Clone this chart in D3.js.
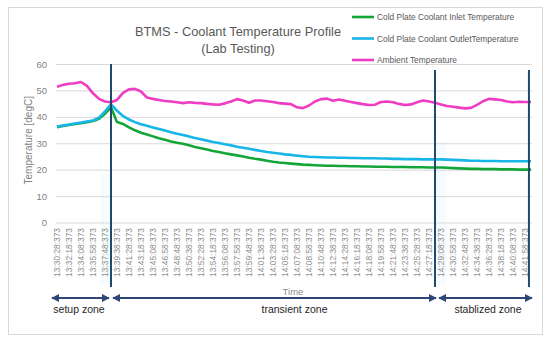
<!DOCTYPE html>
<html>
<head>
<meta charset="utf-8">
<script src="https://cdn.jsdelivr.net/npm/d3@7"></script>
<style>
  body { margin: 0; background: #fff; }
  text { font-family: "Liberation Sans", Arial, sans-serif; }
</style>
</head>
<body>
<div id="chart"></div>
<script>
const width = 550;
const height = 342;
const margin = { top: 64, right: 18, bottom: 119.5, left: 56 };

// tick labels on the time axis (one every 1:50)
const timeLabels = [
  "13:30:28:373", "13:32:18:373", "13:34:08:373", "13:35:58:373", "13:37:48:373",
  "13:39:38:373", "13:41:28:373", "13:43:18:373", "13:45:08:373", "13:46:58:373",
  "13:48:48:373", "13:50:38:373", "13:52:28:373", "13:54:18:373", "13:56:08:373",
  "13:57:58:373", "13:59:48:373", "14:01:38:373", "14:03:28:373", "14:05:18:373",
  "14:07:08:373", "14:08:58:373", "14:10:48:373", "14:12:38:373", "14:14:28:373",
  "14:16:18:373", "14:18:08:373", "14:19:58:373", "14:21:48:373", "14:23:38:373",
  "14:25:28:373", "14:27:18:373", "14:29:08:373", "14:30:58:373", "14:32:48:373",
  "14:34:38:373", "14:36:28:373", "14:38:18:373", "14:40:08:373", "14:41:58:373"
];
const startTime = "13:30:28";
const sampleStep = 55; // seconds between readings below

// values, one reading every 55 s
const inletTemp = [
  36.1, 36.5, 36.9, 37.3, 37.6, 38.0, 38.4, 39.3, 41.2, 43.6,
  38.0, 37.3, 36.0, 34.9, 34.0, 33.3, 32.6, 31.9, 31.3, 30.7,
  30.2, 29.8, 29.2, 28.6, 28.1, 27.6, 27.1, 26.7, 26.2, 25.8,
  25.4, 25.0, 24.5, 24.1, 23.8, 23.4, 23.0, 22.7, 22.5, 22.3,
  22.1, 21.9, 21.8, 21.7, 21.6, 21.5, 21.5, 21.4, 21.4, 21.3,
  21.3, 21.2, 21.2, 21.1, 21.1, 21.1, 21.0, 21.0, 21.0, 20.9,
  20.9, 20.9, 20.8, 20.8, 20.8, 20.7, 20.6, 20.5, 20.4, 20.3,
  20.3, 20.2, 20.2, 20.2, 20.1, 20.1, 20.1, 20.0, 20.0, 20.0
];
const outletTemp = [
  36.3, 36.7, 37.1, 37.5, 37.8, 38.2, 38.6, 39.7, 42.1, 44.7,
  42.3, 40.3, 39.0, 38.0, 37.2, 36.6, 36.0, 35.4, 34.8, 34.2,
  33.6, 33.1, 32.6, 32.0, 31.5, 31.0, 30.5, 30.1, 29.6, 29.2,
  28.7, 28.3, 27.9, 27.5, 27.1, 26.7, 26.4, 26.1, 25.8, 25.6,
  25.3, 25.1, 24.9, 24.8, 24.7, 24.6, 24.6, 24.5, 24.5, 24.4,
  24.4, 24.3, 24.3, 24.3, 24.2, 24.2, 24.1, 24.1, 24.0, 24.0,
  24.0, 23.9, 23.9, 23.9, 23.9, 23.8, 23.7, 23.6, 23.5, 23.4,
  23.4, 23.3, 23.3, 23.3, 23.2, 23.2, 23.2, 23.2, 23.2, 23.2
];
const ambientTemp = [
  51.4, 52.1, 52.5, 52.7, 53.2, 51.7, 48.9, 46.8, 45.8, 45.5,
  46.4, 49.1, 50.4, 50.6, 49.6, 47.3, 46.8, 46.4, 46.0, 45.8,
  45.5, 45.2, 45.5, 45.3, 45.2, 44.9, 44.7, 44.6, 45.1, 45.8,
  46.7, 46.2, 45.3, 46.2, 46.2, 45.9, 45.6, 45.2, 45.0, 44.8,
  43.6, 43.3, 44.3, 45.8, 46.7, 46.9, 46.1, 46.6, 46.1, 45.6,
  45.2, 44.8, 44.5, 44.6, 45.6, 45.8, 45.5, 44.9, 44.5, 44.7,
  45.5, 46.2, 45.8, 45.3, 44.7, 44.1, 43.8, 43.5, 43.2, 43.4,
  44.5, 45.9, 46.8, 46.6, 46.4, 45.8, 45.5, 45.7, 45.6, 45.6
];

const seriesNames = [
  "Cold Plate Coolant Inlet Temperature",
  "Cold Plate Coolant OutletTemperature",
  "Ambient Temperature"
];
const seriesColors = ["#14a538", "#17b5e8", "#ee3cc3"];

// zone boundaries (vertical markers) and zone names
const zoneBounds = ["13:38:43", "14:28:13", "14:42:34"];
const zoneNames = ["setup zone", "transient zone", "stablized zone"];

const toSec = s => {
  const p = s.split(":").map(Number);
  return p[0] * 3600 + p[1] * 60 + p[2];
};
const t0 = toSec(startTime);

const svg = d3.select("#chart")
  .append("svg")
  .attr("width", width)
  .attr("height", height);

svg.append("rect")
  .attr("x", 8.5).attr("y", 7.5)
  .attr("width", 534).attr("height", 327)
  .attr("fill", "#fff")
  .attr("stroke", "#d9d9d9");

const innerW = width - margin.left - margin.right;
const innerH = height - margin.top - margin.bottom;

const x = d3.scaleLinear()
  .domain([-9, 4354])
  .range([0, innerW]);

const y = d3.scaleLinear()
  .domain([0, 60])
  .range([innerH, 0]);

const g = svg.append("g")
  .attr("transform", `translate(${margin.left}, ${margin.top})`);

// faint highlight bands
[[toSec("13:37:13"), toSec("13:38:38"), 110], [toSec("14:28:18"), toSec("14:29:58"), 78]].forEach(b => {
  g.append("rect")
    .attr("x", x(b[0] - t0))
    .attr("y", b[2])
    .attr("width", x(b[1] - t0) - x(b[0] - t0))
    .attr("height", innerH - b[2] + 62)
    .attr("fill", "#f4fcfd");
});

// gridlines + y labels
const yAxis = d3.axisLeft(y)
  .tickValues([0, 10, 20, 30, 40, 50, 60])
  .tickSize(-innerW)
  .tickPadding(9);
g.append("g")
  .call(yAxis)
  .call(a => a.select(".domain").remove())
  .call(a => a.selectAll("line").attr("stroke", "#d9d9d9"))
  .call(a => a.selectAll("text")
    .attr("fill", "#7f7f7f")
    .style("font-size", "9.5px")
    .style("font-family", '"Liberation Sans", Arial, sans-serif'));

// x labels (rotated)
const xAxis = d3.axisBottom(x)
  .tickValues(timeLabels.map(d => toSec(d.slice(0, 8)) - t0))
  .tickFormat((d, i) => timeLabels[i])
  .tickSize(0);
g.append("g")
  .attr("transform", `translate(0, ${innerH})`)
  .call(xAxis)
  .call(a => a.select(".domain").remove())
  .call(a => a.selectAll("text")
    .attr("transform", "rotate(-90)")
    .attr("text-anchor", "end")
    .attr("x", -5.5)
    .attr("y", 0)
    .attr("dy", "0.35em")
    .attr("fill", "#8c8c8c")
    .style("font-size", "8.4px")
    .style("font-family", '"Liberation Sans", Arial, sans-serif'));

// lines
const line = d3.line()
  .x((d, i) => x(i * sampleStep))
  .y(d => y(d));

[inletTemp, outletTemp, ambientTemp].forEach((s, i) => {
  g.append("path")
    .datum(s)
    .attr("fill", "none")
    .attr("stroke", seriesColors[i])
    .attr("stroke-width", 2.6)
    .attr("stroke-linejoin", "round")
    .attr("d", line);
});

// zone markers
const markerX = zoneBounds.map(d => x(toSec(d) - t0));
markerX.forEach((mx, i) => {
  g.append("line")
    .attr("x1", mx).attr("x2", mx)
    .attr("y1", i === 0 ? 0 : 6)
    .attr("y2", innerH + 64.5)
    .attr("stroke", "#1f4a6e")
    .attr("stroke-width", 2);
});

// zone arrows
const defs = svg.append("defs");
defs.append("marker")
  .attr("id", "arr")
  .attr("viewBox", "0 0 10 10")
  .attr("refX", 9).attr("refY", 5)
  .attr("markerWidth", 4).attr("markerHeight", 4)
  .attr("orient", "auto-start-reverse")
  .append("path")
  .attr("d", "M0,0 L10,5 L0,10 Z")
  .attr("fill", "#2d4676");

const arrowY = innerH + 75.5;
const zoneEdges = [[-4, markerX[0] - 2], [markerX[0] + 2, markerX[1] + 1], [markerX[1] + 4, innerW]];
zoneEdges.forEach((e, i) => {
  g.append("line")
    .attr("x1", e[0]).attr("x2", e[1])
    .attr("y1", arrowY).attr("y2", arrowY)
    .attr("stroke", "#2d4676")
    .attr("stroke-width", 2)
    .attr("marker-start", "url(#arr)")
    .attr("marker-end", "url(#arr)");
});

const zoneTextX = [23, 238.5, 432];
zoneNames.forEach((n, i) => {
  g.append("text")
    .attr("x", zoneTextX[i])
    .attr("y", arrowY + 15)
    .attr("text-anchor", "middle")
    .attr("fill", "#262626")
    .style("font-size", "10.5px")
    .text(n);
});

// axis titles
g.append("text")
  .attr("x", 237)
  .attr("y", innerH + 72)
  .attr("text-anchor", "middle")
  .attr("fill", "#8c8c8c")
  .style("font-size", "9.5px")
  .text("Time");

svg.append("text")
  .attr("transform", `translate(32, ${margin.top + innerH / 2 - 3}) rotate(-90)`)
  .attr("text-anchor", "middle")
  .attr("fill", "#7f7f7f")
  .style("font-size", "10px")
  .text("Temperature [degC]");

// title
svg.append("text")
  .attr("x", 238)
  .attr("y", 36)
  .attr("text-anchor", "middle")
  .attr("fill", "#595959")
  .style("font-size", "12.8px")
  .text("BTMS - Coolant Temperature Profile");
svg.append("text")
  .attr("x", 238)
  .attr("y", 53)
  .attr("text-anchor", "middle")
  .attr("fill", "#595959")
  .style("font-size", "12.8px")
  .text("(Lab Testing)");

// legend
const legend = svg.append("g")
  .attr("transform", "translate(352, 17)");
seriesNames.forEach((n, i) => {
  const row = legend.append("g").attr("transform", `translate(0, ${i * 21.5})`);
  row.append("line")
    .attr("x1", 0).attr("x2", 22)
    .attr("stroke", seriesColors[i])
    .attr("stroke-width", 2.6);
  row.append("text")
    .attr("x", 25)
    .attr("y", 3.3)
    .attr("fill", "#595959")
    .style("font-size", "8.4px")
    .text(n);
});
</script>
</body>
</html>
